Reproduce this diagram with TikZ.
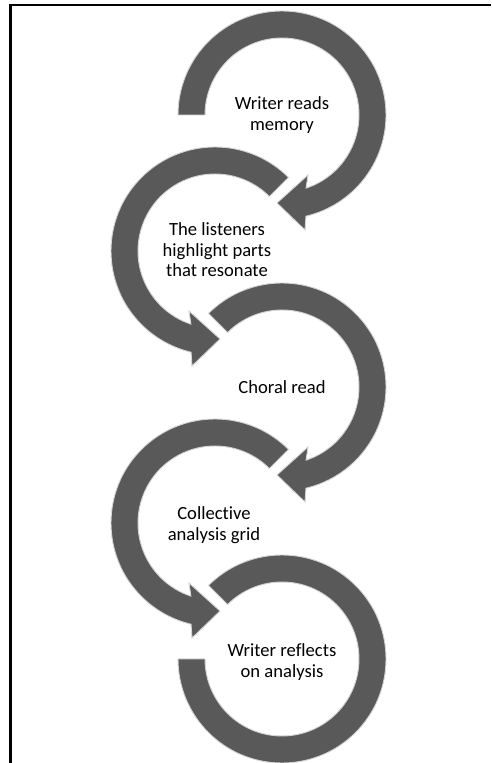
\documentclass[tikz,border=0pt]{standalone}
\usepackage{fontspec}
\setmainfont[Ligatures=CommonOff]{Carlito}
\definecolor{ringgray}{HTML}{595959}
\definecolor{ringedge}{HTML}{D4D4D4}
\begin{document}
\begin{tikzpicture}[x=1pt,y=1pt,
  ring/.style={fill=ringgray,draw=ringedge,line width=0.9pt},
  lbl/.style={align=center,font=\fontsize{18.6}{20.5}\selectfont,text=black,inner sep=0pt}]
\useasboundingbox (0,0) rectangle (491,763);
\fill[white] (0,0) rectangle (491,763);
% frame (only top and left edges visible)
\draw[line width=2.2pt,black] (10.5,0) -- (10.5,758) -- (491,758);

% circle 1 (right, clockwise, starts at left)
\begin{scope}[shift={(282,648)}]
\path[ring] (180:104) arc[start angle=180,end angle=-76.7,radius=104]
  -- (23,-115) -- (-5,-88) -- (26,-60) -- (-71.8:77)
  arc[start angle=-71.8,end angle=180,radius=77] -- cycle;
\end{scope}
% circle 2 (left, counter-clockwise)
\begin{scope}[shift={(215,512)}]
\path[ring] (45:104) arc[start angle=45,end angle=256.7,radius=104]
  -- (-23,-115) -- (5,-88) -- (-26,-60) -- (251.8:77)
  arc[start angle=251.8,end angle=45,radius=77] -- cycle;
\end{scope}
% circle 3 (right, clockwise)
\begin{scope}[shift={(282,376)}]
\path[ring] (135:104) arc[start angle=135,end angle=-76.7,radius=104]
  -- (23,-115) -- (-5,-88) -- (26,-60) -- (-71.8:77)
  arc[start angle=-71.8,end angle=135,radius=77] -- cycle;
\end{scope}
% circle 4 (left, counter-clockwise)
\begin{scope}[shift={(215,240)}]
\path[ring] (45:104) arc[start angle=45,end angle=256.7,radius=104]
  -- (-23,-115) -- (5,-88) -- (-26,-60) -- (251.8:77)
  arc[start angle=251.8,end angle=45,radius=77] -- cycle;
\end{scope}
% circle 5 (right, clockwise, ends at left, no head)
\begin{scope}[shift={(282,104)}]
\path[ring] (135:104) arc[start angle=135,end angle=-180,radius=104]
  -- (-180:77) arc[start angle=-180,end angle=135,radius=77] -- cycle;
\end{scope}

\node[lbl] (t1) at (282,648) {Writer reads\\memory};
\node[lbl] (t2) at (217,513) {The listeners\\highlight parts\\that resonate};
\node[lbl] (t3) at (282,376) {Choral read};
\node[lbl] (t4) at (214,238) {Collective\\analysis grid};
\node[lbl] (t5) at (282,101) {Writer reflects\\on analysis};
\end{tikzpicture}
\end{document}
